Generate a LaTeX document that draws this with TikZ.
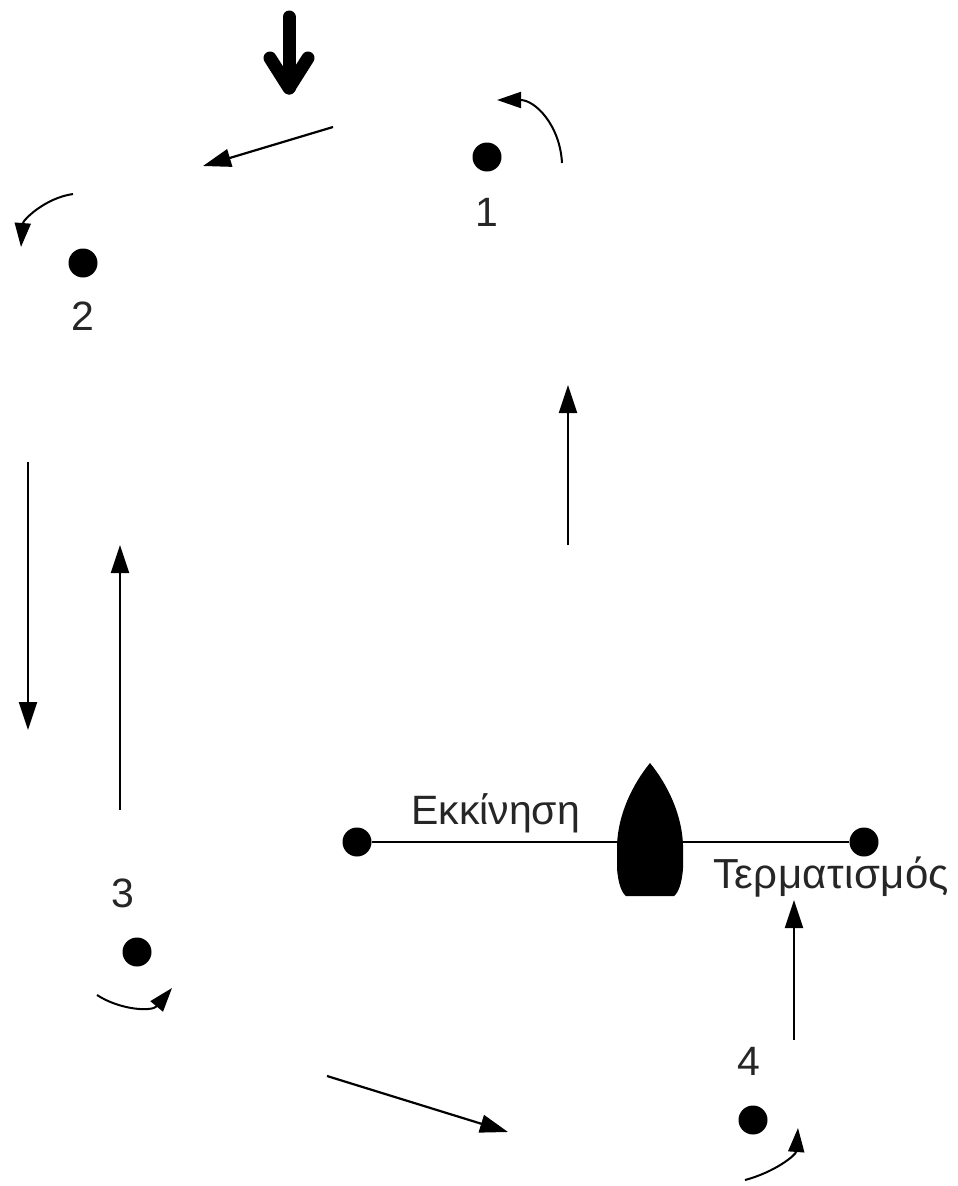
\documentclass[tikz,border=0pt]{standalone}
\usepackage{fontspec}
\setmainfont{Liberation Sans}
\usetikzlibrary{arrows.meta}
\tikzset{
  buoy/.style={circle, fill=black, minimum size=29pt, inner sep=0pt},
  lbl/.style={inner sep=0pt, font=\fontsize{41}{48}\selectfont, text=black!85},
  flow/.style={line width=2.2pt, -{Triangle[length=28pt,width=18pt]}},
  turn/.style={line width=2pt, -{Triangle[length=24pt,width=16pt]}},
  wind/.style={line width=13pt, line cap=round, line join=round},
  hull/.style={fill=black}
}
\begin{document}
\begin{tikzpicture}[x=1pt,y=-1pt]
\useasboundingbox (0,0) rectangle (958,1186);
% wind arrow
\coordinate (w1) at (289,17);
\coordinate (w2) at (289,88);
\coordinate (wl) at (270,58);
\coordinate (wr) at (308,58);
\draw[wind] (w1) -- (w2);
\draw[wind] (wl) -- (w2) -- (wr);
% buoys
\node[buoy] (b1) at (487,157) {};
\node[buoy] (b2) at (83,263) {};
\node[buoy] (b3) at (137,952) {};
\node[buoy] (b4) at (753,1120) {};
\node[lbl, anchor=base] (l1) at (487,226) {1};
\node[lbl, anchor=base] (l2) at (83,330) {2};
\node[lbl, anchor=base] (l3) at (123,907) {3};
\node[lbl, anchor=base] (l4) at (749,1075) {4};
% turning arcs
\coordinate (t1a) at (562,163); \coordinate (t1b) at (497,100);
\draw[turn] (t1a) .. controls (560,125) and (535,100) .. (t1b);
\coordinate (t2a) at (73,194); \coordinate (t2b) at (21,247);
\draw[turn] (t2a) .. controls (45,198) and (23,220) .. (t2b);
\coordinate (t3a) at (97,995); \coordinate (t3b) at (172,988);
\draw[turn] (t3a) .. controls (120,1010) and (152,1012) .. (t3b);
\coordinate (t4a) at (745,1180); \coordinate (t4b) at (798,1128);
\draw[turn] (t4a) .. controls (775,1172) and (796,1155) .. (t4b);
% course arrows
\coordinate (a1s) at (333,127); \coordinate (a1e) at (203,166);
\draw[flow] (a1s) -- (a1e);
\coordinate (a2s) at (568,545); \coordinate (a2e) at (568,385);
\draw[flow] (a2s) -- (a2e);
\coordinate (a3s) at (28,462); \coordinate (a3e) at (28,730);
\draw[flow] (a3s) -- (a3e);
\coordinate (a4s) at (120,810); \coordinate (a4e) at (120,545);
\draw[flow] (a4s) -- (a4e);
\coordinate (a5s) at (327,1076); \coordinate (a5e) at (508,1132);
\draw[flow] (a5s) -- (a5e);
\coordinate (a6s) at (794,1040); \coordinate (a6e) at (794,900);
\draw[flow] (a6s) -- (a6e);
% start / finish line
\node[buoy] (s) at (357,842) {};
\node[buoy] (f) at (864,842) {};
\draw[line width=2.5pt] (s) -- (f);
% committee boat
\fill[hull] (650,763) .. controls (632,785) and (618,815) .. (617,845)
  -- (617,868) .. controls (618,884) and (622,893) .. (626,896)
  -- (674,896) .. controls (678,893) and (682,884) .. (683,868)
  -- (683,845) .. controls (682,815) and (668,785) .. (650,763) -- cycle;
\node[lbl, anchor=base west] (start) at (411,824) {Εκκίνηση};
\node[lbl, anchor=base west, font=\fontsize{42}{48}\selectfont\addfontfeature{LetterSpace=1}] (finish) at (713,888) {Τερματισμός};
\end{tikzpicture}
\end{document}
